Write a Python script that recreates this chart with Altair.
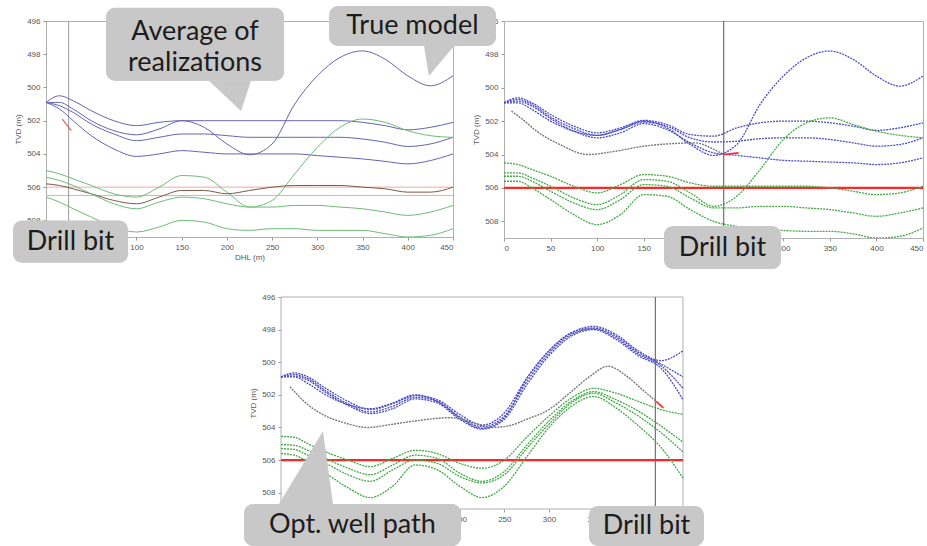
import altair as alt
import pandas as pd

# ---------------- data ----------------
DHL = [0, 15, 30, 50, 75, 100, 125, 150, 175, 200, 225, 250, 275, 300, 325, 350, 375, 400, 425, 450]
X_TICKS = [0, 50, 100, 150, 200, 250, 300, 350, 400, 450]
Y_TICKS = [496, 498, 500, 502, 504, 506, 508]

TRUE_TOP = [500.9, 500.9, 501.3, 502.0, 502.6, 502.85, 502.5, 502.0, 502.4, 503.4, 504.05, 503.4, 501.0, 499.3, 498.2, 497.8, 498.3, 499.3, 499.9, 499.3]

# panel 1 (prior realizations)
P1_BLUE_A = [500.9, 500.5, 500.8, 501.4, 502.0, 502.3, 502.1, 502.0, 502.0, 502.0, 502.0, 502.0, 502.0, 502.0, 502.0, 502.1, 502.3, 502.55, 502.4, 502.1]
P1_BLUE_B = [500.9, 501.1, 501.5, 502.2, 502.8, 503.2, 503.0, 502.8, 502.8, 502.9, 503.0, 503.0, 503.0, 503.0, 503.0, 503.1, 503.3, 503.55, 503.4, 503.0]
P1_BLUE_C = [500.9, 501.3, 502.0, 502.9, 503.7, 504.15, 504.0, 503.8, 503.9, 504.0, 504.0, 504.0, 504.0, 504.1, 504.2, 504.3, 504.45, 504.6, 504.4, 504.0]
P1_GREEN_T = [505.0, 505.2, 505.5, 505.9, 506.4, 506.6, 506.0, 505.3, 505.4, 506.3, 507.2, 506.8, 505.2, 503.6, 502.4, 501.9, 502.1, 502.6, 502.9, 503.0]
P1_GREEN_A = [505.8, 505.9, 506.1, 506.4, 506.8, 507.0, 506.6, 506.2, 506.2, 506.4, 506.2, 506.0, 505.9, 505.9, 505.9, 506.0, 506.1, 506.3, 506.3, 506.0]
P1_GREEN_B = [505.4, 505.6, 505.9, 506.4, 507.0, 507.3, 506.9, 506.6, 506.7, 507.0, 507.2, 507.2, 507.1, 507.1, 507.2, 507.3, 507.5, 507.7, 507.5, 507.1]
P1_GREEN_C = [506.6, 506.9, 507.3, 507.8, 508.4, 508.7, 508.4, 508.0, 508.1, 508.5, 508.6, 508.5, 508.5, 508.6, 508.6, 508.6, 508.8, 509.0, 508.9, 508.5]
P1_LEVELS = [506.0, 506.5]
P1_BIT = [25]
P1_STUB_DHL = [18, 28]
P1_STUB_TVD = [501.9, 502.6]

# panel 2 (updated at bit position 236 m)
P2_BLUE_A = [500.9, 500.6, 500.9, 501.6, 502.3, 502.7, 502.4, 501.95, 502.2, 502.8, 502.9, 502.4, 502.1, 502.0, 502.0, 502.1, 502.3, 502.55, 502.4, 502.1]
P2_BLUE_B = [500.9, 500.7, 501.0, 501.75, 502.45, 502.85, 502.5, 502.05, 502.3, 503.0, 503.25, 503.2, 503.05, 503.0, 503.0, 503.1, 503.3, 503.5, 503.4, 503.0]
P2_BLUE_C = [500.9, 500.8, 501.1, 501.85, 502.6, 503.0, 502.7, 502.15, 502.5, 503.3, 503.9, 504.05, 504.2, 504.35, 504.4, 504.45, 504.5, 504.6, 504.5, 504.2]
P2_GREEN_A = [504.5, 504.6, 504.9, 505.3, 505.9, 506.3, 505.8, 505.2, 505.3, 505.7, 505.9, 505.9, 505.9, 505.9, 505.9, 506.0, 506.2, 506.4, 506.3, 505.9]
P2_GREEN_B = [505.1, 505.1, 505.4, 505.9, 506.6, 507.0, 506.4, 505.5, 505.6, 506.3, 507.1, 506.5, 504.9, 503.1, 502.1, 501.8, 502.2, 502.6, 502.85, 503.0]
P2_GREEN_C = [505.3, 505.3, 505.6, 506.2, 506.9, 507.3, 506.7, 505.8, 505.9, 506.6, 507.2, 507.2, 507.1, 507.1, 507.2, 507.3, 507.5, 507.7, 507.5, 507.2]
P2_GREEN_D = [505.6, 505.6, 506.0, 506.7, 507.6, 508.2, 507.6, 506.4, 506.5, 507.3, 508.0, 508.3, 508.45, 508.55, 508.6, 508.6, 508.75, 509.0, 508.9, 508.4]
P2_PATH_DHL = [8, 20, 35, 60, 90, 120, 150, 180, 205, 222, 236]
P2_PATH_TVD = [501.4, 501.9, 502.6, 503.4, 504.0, 503.8, 503.5, 503.35, 503.3, 503.6, 504.0]
P2_STUB_DHL = [236, 252]
P2_STUB_TVD = [504.0, 503.9]
P2_BIT = [236]

# panel 3 (updated at bit position 419 m)
P3_BLUE_A = [500.9, 500.65, 500.9, 501.6, 502.4, 502.9, 502.55, 502.05, 502.3, 503.2, 503.85, 503.1, 501.0, 499.3, 498.2, 497.9, 498.4, 499.4, 500.1, 500.9]
P3_BLUE_B = [500.9, 500.75, 501.0, 501.75, 502.55, 503.05, 502.7, 502.15, 502.4, 503.35, 503.95, 503.3, 501.2, 499.45, 498.3, 497.95, 498.5, 499.5, 500.2, 501.6]
P3_BLUE_C = [500.9, 500.85, 501.1, 501.85, 502.65, 503.15, 502.85, 502.25, 502.5, 503.5, 504.1, 503.5, 501.4, 499.6, 498.4, 498.0, 498.6, 499.6, 500.35, 502.3]
P3_GREEN_A = [504.55, 504.6, 505.0, 505.5, 506.0, 506.4, 505.9, 505.4, 505.6, 506.2, 506.5, 506.0, 504.6, 503.3, 502.2, 501.6, 501.9, 502.4, 502.9, 503.2]
P3_GREEN_B = [505.05, 505.1, 505.4, 505.9, 506.5, 506.9, 506.3, 505.7, 505.9, 506.8, 507.3, 506.7, 505.1, 503.6, 502.4, 501.8, 502.3, 503.0, 503.9, 504.9]
P3_GREEN_C = [505.3, 505.35, 505.7, 506.2, 506.9, 507.3, 506.6, 506.0, 506.2, 507.0, 507.4, 506.9, 505.3, 503.8, 502.5, 501.9, 502.5, 503.3, 504.3, 505.5]
P3_GREEN_D = [505.6, 505.7, 506.1, 506.8, 507.7, 508.3, 507.6, 506.3, 506.6, 507.6, 508.3, 507.6, 505.8, 504.0, 502.7, 502.1, 502.8, 503.9, 505.2, 507.1]
P3_PATH_DHL = [10, 30, 50, 70, 97, 125, 150, 190, 215, 235, 255, 275, 300, 325, 345, 366, 388, 405, 420]
P3_PATH_TVD = [501.5, 502.6, 503.3, 503.7, 504.0, 503.8, 503.6, 503.4, 503.7, 504.0, 503.9, 503.5, 502.9, 501.8, 500.9, 500.25, 500.9, 501.7, 502.4]
P3_STUB_DHL = [420, 428]
P3_STUB_TVD = [502.4, 502.8]
P3_BIT = [419]
LEVEL_RED = [506.0]

# callouts: rectangle corners, pointer triangles and text (in each panel's DHL / TVD units)
P1_CALLOUT_RECT = {"dhl": [-36.5, 66.3], "dhl2": [90.7, 263.2], "tvd": [508.0, 495.2], "tvd2": [510.55, 499.6]}
P1_CALLOUT_TEXT = {"dhl": [27.1, 164.8, 164.8], "tvd": [509.3, 496.65, 498.55],
                   "label": ["Drill bit", "Average of", "realizations"]}
P1_POINTER = {"dhl": [180.2, 215.6, 226.7], "tvd": [499.6, 499.6, 499.6], "tvd2": [499.6, 501.42, 499.6]}

P2_CALLOUT_RECT = {"dhl": [-187.9, 171.8], "dhl2": [-8.6, 297.5], "tvd": [495.1, 508.28], "tvd2": [497.5, 510.85]}
P2_CALLOUT_TEXT = {"dhl": [-98.3, 234.7], "tvd": [496.3, 509.57], "label": ["True model", "Drill bit"]}
P2_POINTER = {"dhl": [-85.9, -80.6, -53.7], "tvd": [497.5, 497.5, 497.5], "tvd2": [497.5, 499.3, 497.5]}

P3_CALLOUT_RECT = {"dhl": [-41.4, 344.8], "dhl2": [201.5, 473.5], "tvd": [508.69, 508.82], "tvd2": [511.27, 511.27]}
P3_CALLOUT_TEXT = {"dhl": [80.0, 409.2], "tvd": [509.98, 510.05], "label": ["Opt. well path", "Drill bit"]}
P3_POINTER = {"dhl": [-2.2, 47.0, 58.2], "tvd": [508.69, 504.22, 508.69], "tvd2": [508.69, 508.69, 508.69]}

# ---------------- styling ----------------
BLUE1, GREEN1, DARK1, PINK1 = "#6464b4", "#6cbc78", "#7a5a48", "#f2a6a6"
BLUE2, GREEN2, GRAY2, RED2 = "#4d4dc8", "#42ab45", "#7a7a7a", "#ff2626"
FRAME = "#b0b0b0"

YS = alt.Scale(domain=[496, 509], reverse=True, nice=False, zero=False)


def x_axis(title):
    return alt.Axis(values=X_TICKS, title=title, grid=False, domain=False, tickSize=3,
                    tickColor="#999999", labelFontSize=8, labelColor="#555555",
                    labelFont="Liberation Sans", labelPadding=3, titleFontSize=8,
                    titleFont="Liberation Sans", titleFontWeight="normal",
                    titleColor="#555555", titlePadding=2)


def y_axis(offset):
    return alt.Axis(values=Y_TICKS, title="TVD (m)", grid=False, domain=False, tickSize=3,
                    tickColor="#999999", labelFontSize=8, labelColor="#555555",
                    labelFont="Liberation Sans", labelPadding=3, titleFontSize=8,
                    titleFont="Liberation Sans", titleFontWeight="normal",
                    titleColor="#555555", titlePadding=4, offset=offset)


class Panel:
    def __init__(self, xscale, xtitle, yoffset, clip):
        self.xs = xscale
        self.xtitle = xtitle
        self.yoff = yoffset
        self.clip = clip

    def xenc(self, field="dhl"):
        return alt.X(f"{field}:Q", scale=self.xs, axis=x_axis(self.xtitle))

    def yenc(self, field="tvd"):
        return alt.Y(f"{field}:Q", scale=YS, axis=y_axis(self.yoff))

    def enc(self):
        return dict(x=self.xenc(), y=self.yenc())

    def lines(self, curves, width, dash=None):
        rows = []
        for name, color, vals in curves:
            for d, t in zip(DHL, vals):
                rows.append({"dhl": d, "tvd": t, "curve": name, "col": color})
        kw = dict(interpolate="monotone", strokeWidth=width, clip=self.clip)
        if dash:
            kw["strokeDash"] = dash
        return alt.Chart(pd.DataFrame(rows)).mark_line(**kw).encode(
            **self.enc(), color=alt.Color("col:N", scale=None), detail="curve:N")

    def path(self, dhl, tvd, color, width, dash=None):
        kw = dict(interpolate="monotone", strokeWidth=width, color=color, clip=self.clip)
        if dash:
            kw["strokeDash"] = dash
        return alt.Chart(pd.DataFrame({"dhl": dhl, "tvd": tvd})).mark_line(**kw).encode(**self.enc())

    def vrule(self, vals, color):
        return alt.Chart(pd.DataFrame({"dhl": vals})).mark_rule(color=color, strokeWidth=1).encode(
            x=self.xenc())

    def hrule(self, vals, color, width):
        df = pd.DataFrame({"tvd": vals, "dhl": [X_TICKS[0]] * len(vals), "dhl2": [X_TICKS[-1]] * len(vals)})
        return alt.Chart(df).mark_rule(color=color, strokeWidth=width).encode(
            **self.enc(), x2="dhl2:Q")

    def frame(self):
        df = pd.DataFrame({"dhl": [X_TICKS[0]], "dhl2": [X_TICKS[-1]], "tvd": [496], "tvd2": [509]})
        return alt.Chart(df).mark_rect(fill="transparent", stroke=FRAME, strokeWidth=1).encode(
            **self.enc(), x2="dhl2:Q", y2="tvd2:Q")

    def callouts(self, rect, text, pointer):
        rdf = pd.DataFrame(rect)
        shadow = alt.Chart(rdf).mark_rect(cornerRadius=9, color="#a9a9a9", opacity=0.55,
                                          xOffset=2, yOffset=3).encode(
            **self.enc(), x2="dhl2:Q", y2="tvd2:Q")
        box = alt.Chart(rdf).mark_rect(cornerRadius=9, color="#c8c8c8").encode(
            **self.enc(), x2="dhl2:Q", y2="tvd2:Q")
        tip = alt.Chart(pd.DataFrame(pointer)).mark_area(color="#c8c8c8").encode(
            **self.enc(), y2="tvd2:Q")
        txt = alt.Chart(pd.DataFrame(text)).mark_text(font="Lato", fontSize=27, color="#1c1c1c",
                                                      align="center", baseline="middle").encode(
            **self.enc(), text="label:N")
        return [shadow, tip, box, txt]


# ---------------- panel 1 ----------------
A1 = Panel(alt.Scale(domain=[0, 450], nice=False, zero=False), "DHL (m)", 0, True)
p1_curves = [("bt", BLUE1, TRUE_TOP), ("ba", BLUE1, P1_BLUE_A), ("bb", BLUE1, P1_BLUE_B),
             ("bc", BLUE1, P1_BLUE_C), ("gt", GREEN1, P1_GREEN_T), ("ga", DARK1, P1_GREEN_A),
             ("gb", GREEN1, P1_GREEN_B), ("gc", GREEN1, P1_GREEN_C)]
p1 = alt.layer(
    A1.hrule(P1_LEVELS, PINK1, 1),
    A1.vrule(P1_BIT, "#9a9a9a"),
    A1.lines(p1_curves, 1.0),
    A1.path(P1_STUB_DHL, P1_STUB_TVD, "#e06060", 1.2),
    *A1.callouts(P1_CALLOUT_RECT, P1_CALLOUT_TEXT, P1_POINTER),
).properties(width=407, height=216)

# ---------------- panel 2 ----------------
A2 = Panel(alt.Scale(domain=[0, 450], nice=False, zero=False), None, 0, True)
p2_curves = [("bt", BLUE2, TRUE_TOP), ("ba", BLUE2, P2_BLUE_A), ("bb", BLUE2, P2_BLUE_B),
             ("bc", BLUE2, P2_BLUE_C), ("ga", GREEN2, P2_GREEN_A), ("gb", GREEN2, P2_GREEN_B),
             ("gc", GREEN2, P2_GREEN_C), ("gd", GREEN2, P2_GREEN_D)]
p2 = alt.layer(
    A2.vrule(P2_BIT, "#555555"),
    A2.hrule(LEVEL_RED, RED2, 2.2),
    A2.lines(p2_curves, 1.3, [2, 1]),
    A2.path(P2_PATH_DHL, P2_PATH_TVD, GRAY2, 1.4, [2, 1]),
    A2.path(P2_STUB_DHL, P2_STUB_TVD, RED2, 1.6),
    *A2.callouts(P2_CALLOUT_RECT, P2_CALLOUT_TEXT, P2_POINTER),
).properties(width=419, height=217)

# ---------------- panel 3 (sits in the second grid column, drawn shifted to the left) ----------------
P3_SHIFT = 223
P3_WIDTH = 402
A3 = Panel(alt.Scale(domain=[0, 450], range=[-P3_SHIFT, P3_WIDTH - P3_SHIFT], nice=False, zero=False),
           None, P3_SHIFT, False)
p3_curves = [("bt", BLUE2, TRUE_TOP), ("ba", BLUE2, P3_BLUE_A), ("bb", BLUE2, P3_BLUE_B),
             ("bc", BLUE2, P3_BLUE_C), ("ga", GREEN2, P3_GREEN_A), ("gb", GREEN2, P3_GREEN_B),
             ("gc", GREEN2, P3_GREEN_C), ("gd", GREEN2, P3_GREEN_D)]
p3 = alt.layer(
    A3.frame(),
    A3.vrule(P3_BIT, "#555555"),
    A3.hrule(LEVEL_RED, RED2, 2.2),
    A3.lines(p3_curves, 1.3, [2, 1]),
    A3.path(P3_PATH_DHL, P3_PATH_TVD, GRAY2, 1.4, [2, 1]),
    A3.path(P3_STUB_DHL, P3_STUB_TVD, RED2, 1.6),
    *A3.callouts(P3_CALLOUT_RECT, P3_CALLOUT_TEXT, P3_POINTER),
).properties(width=P3_WIDTH - P3_SHIFT, height=212, view=alt.ViewBackground(stroke="transparent"))

spacer = alt.Chart(pd.DataFrame({"v": [0]})).mark_point(opacity=0).encode(
    x=alt.value(0), y=alt.value(0)
).properties(width=4, height=4, view=alt.ViewBackground(stroke="transparent"))

chart = alt.concat(p1, p2, spacer, p3, columns=2).properties(
    spacing={"row": 59, "column": 51},
    bounds="flush",
    padding={"left": 12, "top": 5, "right": 0, "bottom": 0},
    background="white",
).configure_view(stroke=FRAME, strokeWidth=1)

chart.save("out.html", embed_options={"renderer": "svg", "actions": False})
